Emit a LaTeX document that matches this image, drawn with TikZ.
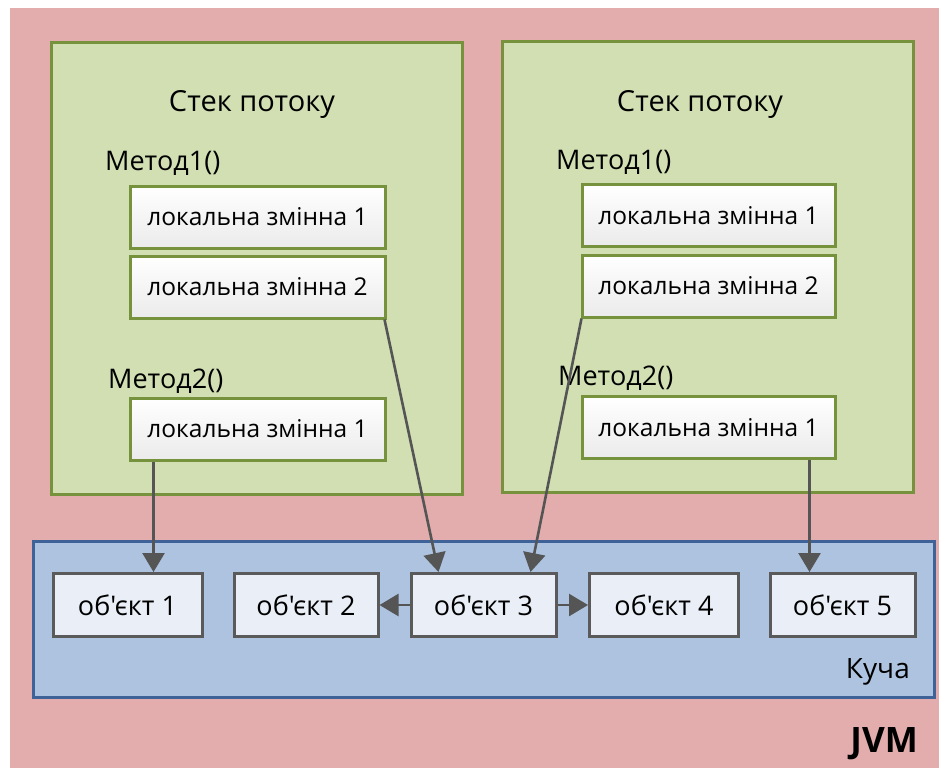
\documentclass[tikz,border=0pt]{standalone}
\usepackage{fontspec}
\setmainfont{Open Sans}[Ligatures=TeXOff]
\usetikzlibrary{arrows.meta,shadows}
\definecolor{jvmpink}{HTML}{E2ADAC}
\definecolor{stackgreen}{HTML}{D1DFB3}
\definecolor{stackborder}{HTML}{76923C}
\definecolor{heapblue}{HTML}{ADC3E0}
\definecolor{heapborder}{HTML}{3F6399}
\definecolor{objfill}{HTML}{E9EEF7}
\definecolor{objborder}{HTML}{5A5A5A}
\definecolor{arrowgray}{HTML}{555555}
\tikzset{
  stackbox/.style={draw=stackborder, line width=3pt, fill=stackgreen},
  varbox/.style={draw=stackborder, line width=3pt, top color=white, bottom color=black!8,
    minimum height=62pt, inner sep=0pt, font=\fontsize{24.5}{28}\selectfont,
    drop shadow={shadow xshift=1.5pt, shadow yshift=-1.5pt, opacity=0.25}},
  objbox/.style={draw=objborder, line width=3pt, fill=objfill, minimum height=63pt,
    inner sep=0pt, font=\fontsize{27}{31}\selectfont},
  methodlabel/.style={anchor=west, inner sep=0pt, font=\fontsize{27}{31}\selectfont},
  titlelabel/.style={inner sep=0pt, font=\fontsize{29}{33}\selectfont},
  arr/.style={draw=arrowgray, line width=2.6pt, -{Triangle[length=19pt,width=22pt]}}
}
\newcommand{\obj}[1]{об'єкт #1}
\begin{document}
\begin{tikzpicture}[x=1pt,y=-1pt]
\useasboundingbox (0,0) rectangle (939,768);
\fill[white] (0,0) rectangle (939,768);
% JVM background
\fill[jvmpink] (10,8) rectangle (939,768);
% thread stacks
\path[stackbox] (51,43) rectangle (462,494);
\path[stackbox] (502,42) rectangle (913,492);
% heap
\path[draw=heapborder, line width=3pt, fill=heapblue] (33,541) rectangle (934,697);
% titles
\node[titlelabel] (t1) at (252,104) {Стек потоку};
\node[titlelabel] (t2) at (700,104) {Стек потоку};
\node[methodlabel] (m11) at (105,163) {Метод1()};
\node[methodlabel] (m12) at (108,381) {Метод2()};
\node[methodlabel] (m21) at (556,162) {Метод1()};
\node[methodlabel] (m22) at (558,378) {Метод2()};
% local variables
\node[varbox, minimum width=255pt] (lv1) at (257.5,217) {локальна змінна 1};
\node[varbox, minimum width=255pt] (lv2) at (257.5,287) {локальна змінна 2};
\node[varbox, minimum width=255pt] (lv3) at (257.5,429) {локальна змінна 1};
\node[varbox, minimum width=253pt] (rv1) at (708.5,215.5) {локальна змінна 1};
\node[varbox, minimum width=253pt] (rv2) at (708.5,286) {локальна змінна 2};
\node[varbox, minimum width=253pt] (rv3) at (708.5,427.5) {локальна змінна 1};
% objects
\node[objbox, minimum width=149pt] (o1) at (127.5,605) {\obj{1}};
\node[objbox, minimum width=144pt] (o2) at (306,605) {\obj{2}};
\node[objbox, minimum width=145pt] (o3) at (483.5,605) {\obj{3}};
\node[objbox, minimum width=149pt] (o4) at (664,605) {\obj{4}};
\node[objbox, minimum width=145pt] (o5) at (842.5,605) {\obj{5}};
% labels
\node[anchor=east, inner sep=0pt, font=\fontsize{28}{32}\selectfont] (heap) at (910,672) {Куча};
\node[anchor=east, inner sep=0pt, font=\fontsize{35}{40}\selectfont\bfseries] (jvm) at (918,744) {JVM};
% connectors
\draw[arr] ([xshift=25]lv3.south west) -- ([xshift=25]lv3.south west |- o1.north);
\draw[arr] ([xshift=-2]lv2.south east) -- ([xshift=-45]o3.north);
\draw[arr] ([xshift=1]rv2.south west) -- ([xshift=47]o3.north);
\draw[arr] ([xshift=-27]rv3.south east) -- ([xshift=-27]rv3.south east |- o5.north);
\draw[arr] (o3.west) -- (o2.east);
\draw[arr] (o3.east) -- (o4.west);
\end{tikzpicture}
\end{document}
